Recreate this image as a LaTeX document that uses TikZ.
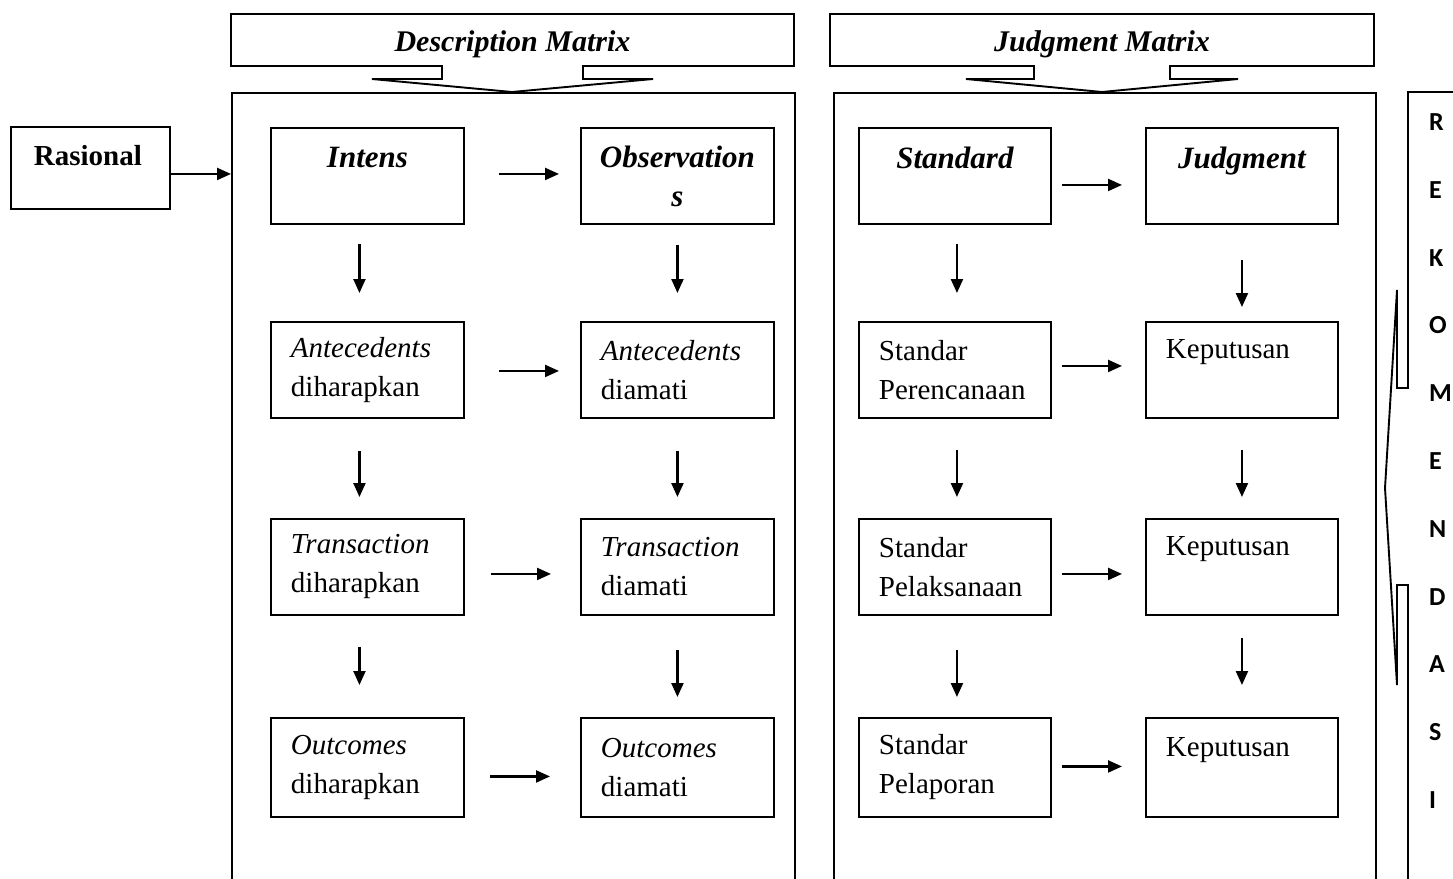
\documentclass[tikz,border=0pt]{standalone}
\usepackage{fontspec}
\setmainfont{Liberation Serif}
\newfontfamily\calib{Carlito}
\usetikzlibrary{arrows.meta}
\newcommand\hd[1]{{\fontsize{31}{39}\selectfont\bfseries\itshape #1}}
\begin{document}
\begin{tikzpicture}[x=1pt,y=-1pt,
  box/.style={draw, line width=1.9pt, anchor=north west, inner xsep=20pt, inner ysep=0pt,
    font=\fontsize{29}{39}\selectfont, align=left, text width=153pt, minimum height=96pt},
  hbox/.style={box, inner xsep=10pt, text width=173pt, align=center},
  frame/.style={draw, line width=1.9pt, anchor=north west, inner sep=0pt},
  callout/.style={draw, line width=1.9pt, line join=miter},
  arr/.style={line width=2.2pt, -{Triangle[length=14pt,width=12pt]}},
  ttl/.style={font=\fontsize{30}{36}\selectfont\bfseries\itshape},
  rek/.style={font=\calib\bfseries\fontsize{26}{30}\selectfont, anchor=west, inner sep=0pt}
]
\useasboundingbox (0,0) rectangle (1453,878);

% ---------- top callouts ----------
\draw[callout] (231,14) -- (794,14) -- (794,66) -- (583,66) -- (583,79) -- (653,79)
   -- (512,92) -- (372,79) -- (442,79) -- (442,66) -- (231,66) -- cycle;
\node[ttl] (dm) at (512.5,44) {Description Matrix};

\draw[callout] (830,14) -- (1374,14) -- (1374,66) -- (1170,66) -- (1170,79) -- (1238,79)
   -- (1102,92) -- (966,79) -- (1034,79) -- (1034,66) -- (830,66) -- cycle;
\node[ttl] (jm) at (1102,44) {Judgment Matrix};

% ---------- big frames ----------
\node[frame, minimum width=563pt, minimum height=830pt] (dbox) at (231,92) {};
\node[frame, minimum width=542pt, minimum height=830pt] (jbox) at (833,92) {};

% ---------- rekomendasi callout ----------
\draw[callout] (1470,92) -- (1408,92) -- (1408,388) -- (1397,388) -- (1397,290)
   -- (1385,488) -- (1397,685) -- (1397,585) -- (1408,585) -- (1408,900);
\foreach \l [count=\i from 0] in {R,E,K,O,M,E,N,D,A,S,I}
  \node[rek] (r\i) at (1429,{122+67.8*\i}) {\l};

% ---------- Rasional ----------
\node[box, inner xsep=23pt, text width=113pt, minimum height=82pt] (ras) at (10,126)
  {\textbf{Rasional}\\[-21pt]\vphantom{p}};
\coordinate (rasA) at ([yshift=-6pt]ras.east);
\draw[arr] (rasA) -- (rasA -| dbox.west);

% ---------- Description matrix boxes ----------
\node[hbox] (d1) at (270,127) {\hd{Intens}\\[-8pt]\vphantom{p}};
\node[hbox] (e1) at (580,127) {\hd{Observation}\\\hd{s}};
\node[box] (d2) at (270,321) {\textit{Antecedents}\\diharapkan};
\node[box] (e2) at (580,321) {\textit{Antecedents}\\diamati};
\node[box] (d3) at (270,518) {\textit{Transaction}\\diharapkan};
\node[box] (e3) at (580,518) {\textit{Transaction}\\diamati};
\node[box, minimum height=99pt] (d4) at (270,717) {\textit{Outcomes}\\diharapkan};
\node[box, minimum height=99pt] (e4) at (580,717) {\textit{Outcomes}\\diamati};

% ---------- Judgment matrix boxes ----------
\node[hbox, text width=172pt] (s1) at (858,127) {\hd{Standard}\\[-8pt]\vphantom{p}};
\node[hbox, text width=172pt] (k1) at (1145,127) {\hd{Judgment}\\[-8pt]\vphantom{p}};
\node[box, text width=152pt] (s2) at (858,321) {Standar\\Perencanaan};
\node[box, text width=152pt] (k2) at (1145,321) {Keputusan\\[-4pt]\vphantom{p}};
\node[box, text width=152pt] (s3) at (858,518) {Standar\\Pelaksanaan};
\node[box, text width=152pt] (k3) at (1145,518) {Keputusan\\[-4pt]\vphantom{p}};
\node[box, text width=152pt, minimum height=99pt] (s4) at (858,717) {Standar\\Pelaporan};
\node[box, text width=152pt, minimum height=99pt] (k4) at (1145,717) {Keputusan\\[-4pt]\vphantom{p}};

% ---------- horizontal arrows ----------
\draw[arr, shorten <=34pt, shorten >=21pt] ([yshift=2pt]d1.east) -- ([yshift=2pt]e1.west);
\draw[arr, shorten <=34pt, shorten >=21pt] ([yshift=-1pt]d2.east) -- ([yshift=-1pt]e2.west);
\draw[arr, shorten <=26pt, shorten >=29pt] ([yshift=-7pt]d3.east) -- ([yshift=-7pt]e3.west);
\draw[arr, shorten <=25pt, shorten >=30pt] ([yshift=-9pt]d4.east) -- ([yshift=-9pt]e4.west);

\draw[arr, shorten <=10pt, shorten >=23pt] ([yshift=-9pt]s1.east) -- ([yshift=-9pt]k1.west);
\draw[arr, shorten <=10pt, shorten >=23pt] ([yshift=4pt]s2.east) -- ([yshift=4pt]k2.west);
\draw[arr, shorten <=10pt, shorten >=23pt] ([yshift=-7pt]s3.east) -- ([yshift=-7pt]k3.west);
\draw[arr, shorten <=10pt, shorten >=23pt] ([yshift=1pt]s4.east) -- ([yshift=1pt]k4.west);

% ---------- vertical arrows ----------
\draw[arr, shorten <=19pt, shorten >=28pt] ([xshift=-8pt]d1.south) -- ([xshift=-8pt]d2.north);
\draw[arr, shorten <=32pt, shorten >=21pt] ([xshift=-8pt]d2.south) -- ([xshift=-8pt]d3.north);
\draw[arr, shorten <=31pt, shorten >=32pt] ([xshift=-8pt]d3.south) -- ([xshift=-8pt]d4.north);

\draw[arr, shorten <=20pt, shorten >=28pt] (e1.south) -- (e2.north);
\draw[arr, shorten <=32pt, shorten >=21pt] (e2.south) -- (e3.north);
\draw[arr, shorten <=34pt, shorten >=20pt] (e3.south) -- (e4.north);

\draw[arr, shorten <=19pt, shorten >=28pt] ([xshift=2pt]s1.south) -- ([xshift=2pt]s2.north);
\draw[arr, shorten <=31pt, shorten >=21pt] ([xshift=2pt]s2.south) -- ([xshift=2pt]s3.north);
\draw[arr, shorten <=34pt, shorten >=20pt] ([xshift=2pt]s3.south) -- ([xshift=2pt]s4.north);

\draw[arr, shorten <=35pt, shorten >=14pt] (k1.south) -- (k2.north);
\draw[arr, shorten <=31pt, shorten >=21pt] (k2.south) -- (k3.north);
\draw[arr, shorten <=22pt, shorten >=32pt] (k3.south) -- (k4.north);
\end{tikzpicture}
\end{document}
